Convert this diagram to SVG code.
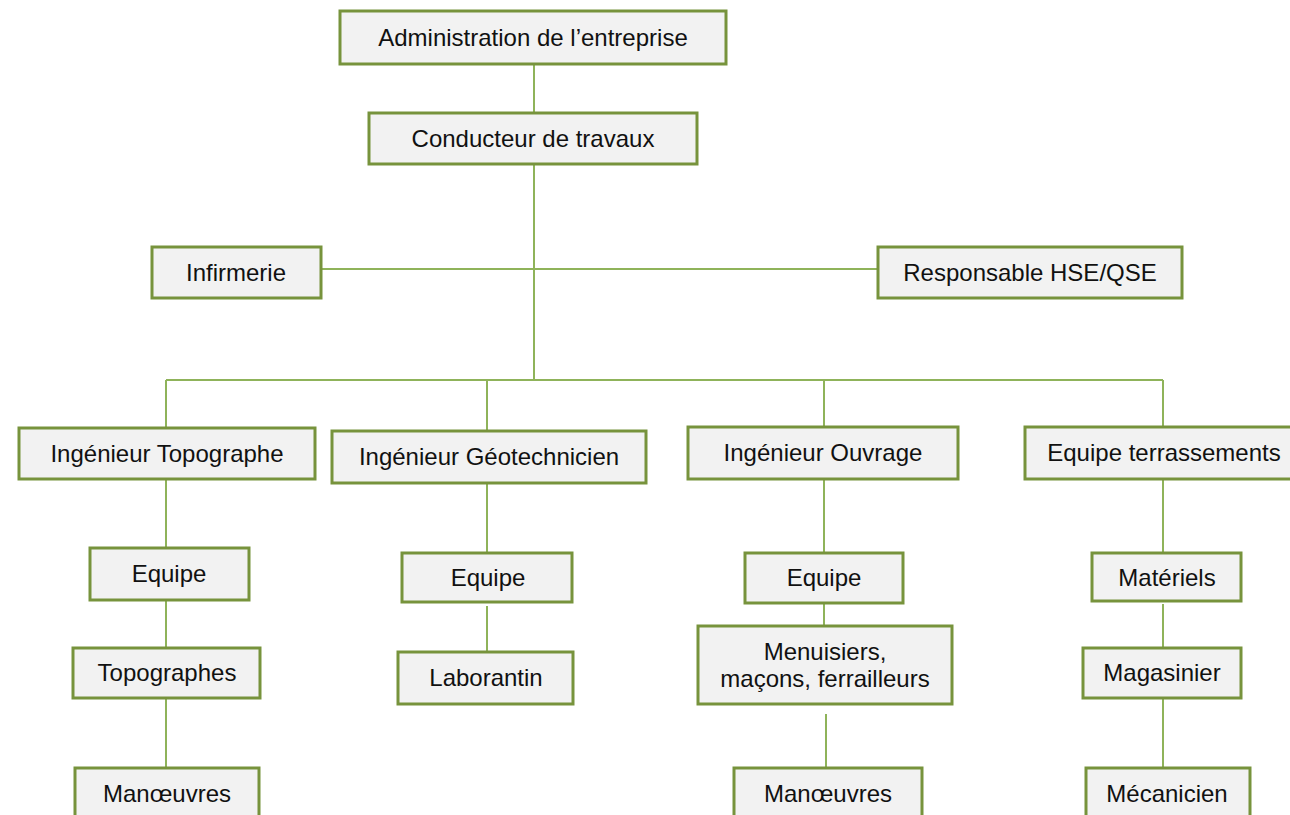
<svg xmlns="http://www.w3.org/2000/svg" width="1290" height="815" viewBox="0 0 1290 815">
<style>
.box{fill:#F2F2F2;stroke:#77933C;stroke-width:3}
.t{font-family:"Liberation Sans",Arial,sans-serif;font-size:24px;fill:#111;text-anchor:middle}
.c{stroke:#8FB35A;stroke-width:2;fill:none}
</style>
<rect width="1290" height="815" fill="#fff"/>
<g id="connectors">
<path class="c" d="M534 64V113"/>
<path class="c" d="M534 165V380"/>
<path class="c" d="M321 269H878"/>
<path class="c" d="M166 380H1163"/>
<path class="c" d="M166 380V428M487 380V431M824 380V427M1163 380V427"/>
<path class="c" d="M166 479V548M166 600V648M166 698V768"/>
<path class="c" d="M487 483V553M487 606V652"/>
<path class="c" d="M824 479V553M824 603V626M826 714V768"/>
<path class="c" d="M1163 479V553M1163 604V648M1163 698V768"/>
</g>
<g id="admin"><rect class="box" x="340" y="11" width="386" height="53"/><text class="t" x="533" y="46">Administration de l’entreprise</text></g>
<g id="conducteur"><rect class="box" x="369" y="113" width="328" height="51"/><text class="t" x="533" y="147">Conducteur de travaux</text></g>
<g id="infirmerie"><rect class="box" x="152" y="247" width="169" height="51"/><text class="t" x="236" y="281">Infirmerie</text></g>
<g id="hse"><rect class="box" x="878" y="247" width="304" height="51"/><text class="t" x="1030" y="281">Responsable HSE/QSE</text></g>
<g id="ing-topo"><rect class="box" x="19" y="428" width="296" height="51"/><text class="t" x="167" y="462">Ingénieur Topographe</text></g>
<g id="ing-geo"><rect class="box" x="332" y="431" width="314" height="52"/><text class="t" x="489" y="465">Ingénieur Géotechnicien</text></g>
<g id="ing-ouvrage"><rect class="box" x="688" y="427" width="270" height="52"/><text class="t" x="823" y="461">Ingénieur Ouvrage</text></g>
<g id="equipe-terr"><rect class="box" x="1025" y="427" width="280" height="52"/><text class="t" x="1164" y="461">Equipe terrassements</text></g>
<g id="equipe-topo"><rect class="box" x="90" y="548" width="159" height="52"/><text class="t" x="169" y="582">Equipe</text></g>
<g id="topographes"><rect class="box" x="73" y="648" width="187" height="50"/><text class="t" x="167" y="681">Topographes</text></g>
<g id="manoeuvres-1"><rect class="box" x="75" y="768" width="184" height="60"/><text class="t" x="167" y="802">Manœuvres</text></g>
<g id="equipe-geo"><rect class="box" x="402" y="553" width="170" height="49"/><text class="t" x="488" y="586">Equipe</text></g>
<g id="laborantin"><rect class="box" x="398" y="652" width="175" height="52"/><text class="t" x="486" y="686">Laborantin</text></g>
<g id="equipe-ouvrage"><rect class="box" x="745" y="553" width="158" height="50"/><text class="t" x="824" y="586">Equipe</text></g>
<g id="menuisiers"><rect class="box" x="698" y="626" width="254" height="78"/><text class="t" x="825" y="660">Menuisiers,</text><text class="t" x="825" y="687">maçons, ferrailleurs</text></g>
<g id="manoeuvres-2"><rect class="box" x="734" y="768" width="188" height="60"/><text class="t" x="828" y="802">Manœuvres</text></g>
<g id="materiels"><rect class="box" x="1092" y="553" width="149" height="48"/><text class="t" x="1167" y="586">Matériels</text></g>
<g id="magasinier"><rect class="box" x="1083" y="648" width="158" height="50"/><text class="t" x="1162" y="681">Magasinier</text></g>
<g id="mecanicien"><rect class="box" x="1086" y="768" width="164" height="60"/><text class="t" x="1167" y="802">Mécanicien</text></g>
</svg>
